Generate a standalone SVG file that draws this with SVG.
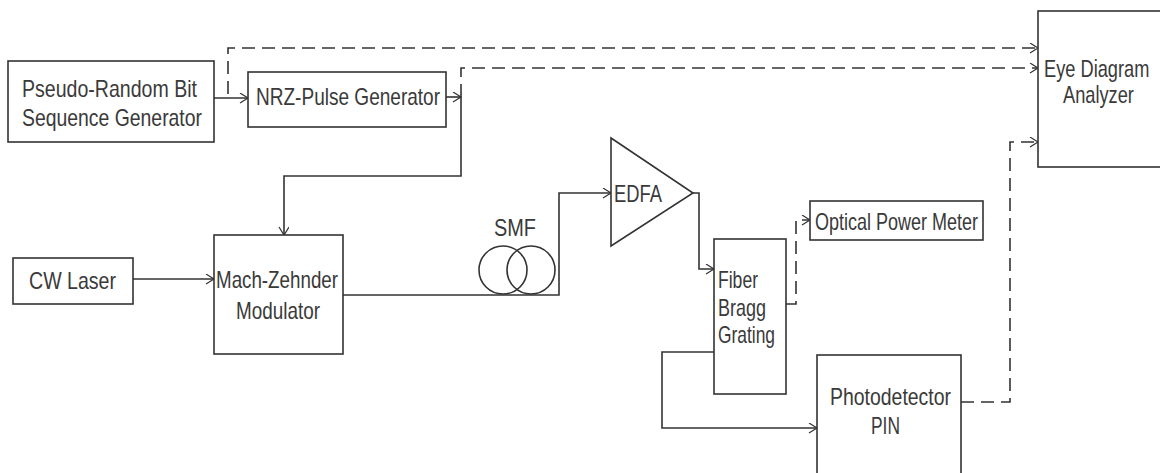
<svg xmlns="http://www.w3.org/2000/svg" width="1160" height="473" viewBox="0 0 1160 473">
<defs>
<marker id="arr" markerUnits="userSpaceOnUse" markerWidth="12" markerHeight="12" refX="9" refY="5" orient="auto">
<path d="M1,0 L9,5 L1,10" fill="none" stroke="#333" stroke-width="1.2"/>
</marker>
<style>
.box{fill:#fff;stroke:#333;stroke-width:1.6}
.ln{fill:none;stroke:#333;stroke-width:1.6}
.dash{fill:none;stroke:#333;stroke-width:1.6;stroke-dasharray:13,7}
.t{font-family:"Liberation Sans",Arial,sans-serif;font-size:24px;fill:#3a3a3a}
</style>
</defs>
<rect width="1160" height="473" fill="#fff"/>

<g id="connectors">
<path class="ln" d="M214,98 H248" marker-end="url(#arr)"/>
<path class="ln" d="M446,97 H461" marker-end="url(#arr)"/>
<path class="ln" d="M461,97 V176 H284 V235" marker-end="url(#arr)"/>
<path class="ln" d="M133,279 H214" marker-end="url(#arr)"/>
<path class="ln" d="M343,295 H559 V193 H611" marker-end="url(#arr)"/>
<path class="ln" d="M693,193 H699 V269 H714" marker-end="url(#arr)"/>
<path class="dash" d="M786,304 H796 V220 H810" marker-end="url(#arr)"/>
<path class="ln" d="M714,352 H662 V428 H817" marker-end="url(#arr)"/>
<path class="dash" d="M961,402 H1010 V142 H1038" marker-end="url(#arr)"/>
<path class="dash" d="M228,94 V48 H1038" marker-end="url(#arr)"/>
<path class="dash" d="M461,97 V68 H1038" marker-end="url(#arr)"/>
</g>

<g id="prbs">
<rect class="box" x="8" y="61" width="206" height="81"/>
<text class="t" x="22" y="97" textLength="175" lengthAdjust="spacingAndGlyphs">Pseudo-Random Bit</text>
<text class="t" x="22" y="126" textLength="180" lengthAdjust="spacingAndGlyphs">Sequence Generator</text>
</g>

<g id="nrz">
<rect class="box" x="248" y="72" width="198" height="55"/>
<text class="t" x="256" y="105" textLength="184" lengthAdjust="spacingAndGlyphs">NRZ-Pulse Generator</text>
</g>

<g id="cw">
<rect class="box" x="13" y="258" width="120" height="46"/>
<text class="t" x="29" y="289" textLength="87" lengthAdjust="spacingAndGlyphs">CW Laser</text>
</g>

<g id="mzm">
<rect class="box" x="214" y="235" width="129" height="119"/>
<text class="t" x="216" y="288" textLength="122" lengthAdjust="spacingAndGlyphs">Mach-Zehnder</text>
<text class="t" x="236" y="319" textLength="84" lengthAdjust="spacingAndGlyphs">Modulator</text>
</g>

<g id="smf">
<circle class="ln" cx="503" cy="270" r="24"/>
<circle class="ln" cx="531" cy="270" r="24"/>
<text class="t" x="494" y="236" textLength="42" lengthAdjust="spacingAndGlyphs">SMF</text>
</g>

<g id="edfa">
<polygon class="box" points="611,138 693,193 611,246"/>
<text class="t" x="614" y="202" textLength="48" lengthAdjust="spacingAndGlyphs">EDFA</text>
</g>

<g id="fbg">
<rect class="box" x="714" y="239" width="72" height="155"/>
<text class="t" x="718" y="288" textLength="40" lengthAdjust="spacingAndGlyphs">Fiber</text>
<text class="t" x="718" y="316" textLength="48" lengthAdjust="spacingAndGlyphs">Bragg</text>
<text class="t" x="718" y="343" textLength="57" lengthAdjust="spacingAndGlyphs">Grating</text>
</g>

<g id="opm">
<rect class="box" x="810" y="201" width="173" height="39"/>
<text class="t" x="815" y="230" textLength="163" lengthAdjust="spacingAndGlyphs">Optical Power Meter</text>
</g>

<g id="pd">
<rect class="box" x="817" y="355" width="144" height="130"/>
<text class="t" x="830" y="405" textLength="121" lengthAdjust="spacingAndGlyphs">Photodetector</text>
<text class="t" x="871" y="434" textLength="29" lengthAdjust="spacingAndGlyphs">PIN</text>
</g>

<g id="eye">
<rect class="box" x="1038" y="11" width="140" height="156"/>
<text class="t" transform="translate(1044,77) scale(0.76,1)" x="0" y="0">Eye Diagram</text>
<text class="t" transform="translate(1063,103) scale(0.76,1)" x="0" y="0">Analyzer</text>
</g>
</svg>
